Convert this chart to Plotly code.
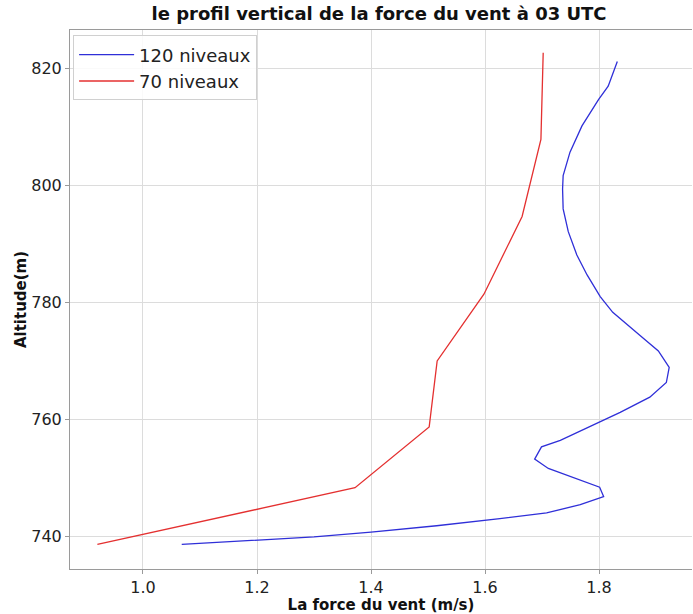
import plotly.graph_objects as go

# Vertical wind-speed profile at 03 UTC, two vertical resolutions
alt_120 = [738.6, 739.3, 739.9, 740.7, 741.8, 743.0, 744.0, 745.4, 746.8, 748.4,
           750.2, 751.6, 753.2, 755.3, 756.4, 757.9, 759.5, 761.2, 763.8, 766.3,
           768.9, 771.7, 774.1, 776.0, 778.3, 781.0, 784.7, 788.1, 792.1, 796.0,
           799.4, 801.7, 805.7, 810.2, 814.7, 817.0, 821.2]
wind_120 = [1.068, 1.200, 1.300, 1.400, 1.515, 1.626, 1.708, 1.767, 1.808, 1.801,
            1.749, 1.711, 1.687, 1.699, 1.732, 1.765, 1.802, 1.837, 1.889, 1.918,
            1.923, 1.904, 1.875, 1.852, 1.824, 1.802, 1.779, 1.761, 1.746, 1.737,
            1.736, 1.737, 1.749, 1.770, 1.799, 1.816, 1.832]

alt_70 = [738.6, 748.3, 758.7, 770.0, 781.4, 794.7, 807.9, 822.7]
wind_70 = [0.920, 1.372, 1.502, 1.516, 1.598, 1.665, 1.698, 1.702]

x_ticks = [1.0, 1.2, 1.4, 1.6, 1.8]
y_ticks = [740, 760, 780, 800, 820]

FONT = "DejaVu Sans"

fig = go.Figure()
fig.add_trace(go.Scatter(x=wind_120, y=alt_120, mode="lines", name="120 niveaux",
                         line=dict(color="#2f2fd8", width=1.3)))
fig.add_trace(go.Scatter(x=wind_70, y=alt_70, mode="lines", name="70 niveaux",
                         line=dict(color="#e43030", width=1.3)))

axis_common = dict(
    showgrid=True, gridcolor="#dcdcdc", gridwidth=1,
    showline=True, linecolor="#9a9a9a", linewidth=1,
    ticks="outside", ticklen=4, tickcolor="#9a9a9a",
    tickfont=dict(family=FONT, size=16, color="#222"),
    zeroline=False,
)

fig.update_layout(
    width=693, height=614,
    margin=dict(l=70, r=1, t=30, b=41),
    paper_bgcolor="white", plot_bgcolor="white",
    title=dict(text="<b>le profil vertical de la force du vent à 03 UTC</b>",
               font=dict(family=FONT, size=18, color="#111"),
               x=0.547, xanchor="center", y=0.977, yanchor="middle"),
    xaxis=dict(range=[0.872, 1.963], tickvals=x_ticks, tickformat=".1f",
               mirror=True,
               title=dict(text="<b>La force du vent (m/s)</b>",
                          font=dict(family=FONT, size=15, color="#111"),
                          standoff=5),
               **axis_common),
    yaxis=dict(range=[734.4, 826.6], tickvals=y_ticks, mirror=False,
               title=dict(text="<b>Altitude(m)</b>",
                          font=dict(family=FONT, size=15, color="#111"),
                          standoff=1),
               **axis_common),
    legend=dict(x=0.005, y=0.99, xanchor="left", yanchor="top",
                bgcolor="rgba(255,255,255,0.85)", bordercolor="#d0d0d0",
                borderwidth=1, font=dict(family=FONT, size=18, color="#222"),
                itemwidth=55, tracegroupgap=0),
    showlegend=True,
)

fig.write_html("out.html")
